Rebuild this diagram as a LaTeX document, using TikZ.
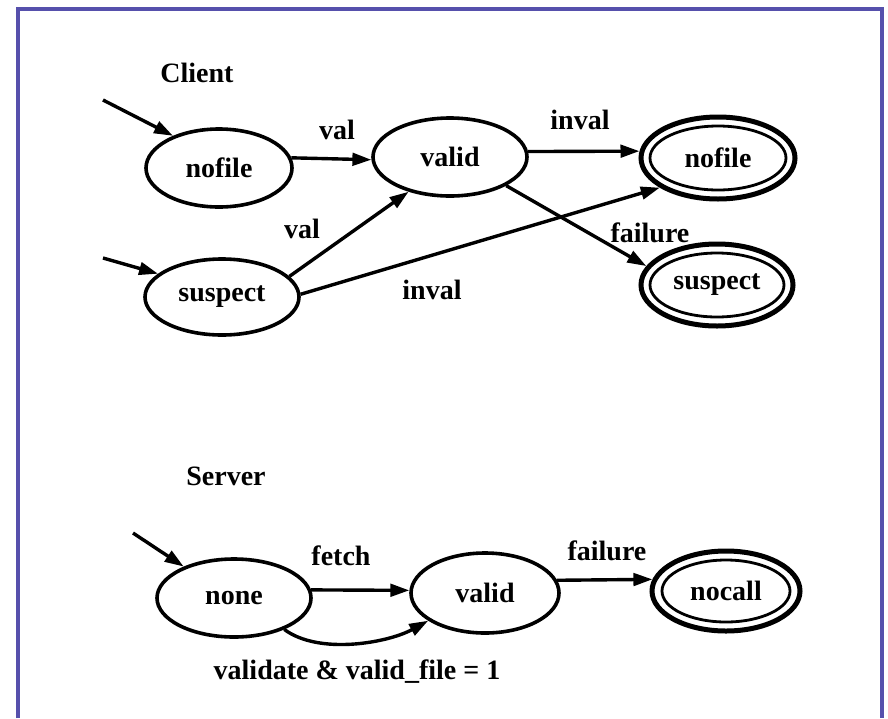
\documentclass[tikz,border=0pt]{standalone}
\usepackage{fontspec}
\setmainfont{Liberation Serif}
\usetikzlibrary{shapes.geometric,arrows.meta}
\definecolor{framecol}{RGB}{86,80,172}
\begin{document}
\begin{tikzpicture}[x=1pt,y=-1pt,
  every node/.style={font=\fontsize{28}{32}\selectfont\bfseries},
  st/.style={ellipse,draw,line width=3.6pt,inner sep=0pt},
  fin/.style={ellipse,draw,line width=5pt,inner sep=0pt},
  inner/.style={line width=2.8pt},
  edge/.style={line width=3.4pt,-{Triangle[length=19pt,width=12.5pt]}},
  lbl/.style={inner sep=0pt}]
\useasboundingbox (0,0) rectangle (888,718);
\fill[white] (0,0) rectangle (888,718);
\draw[line width=4pt,color=framecol] (17.5,718) -- (17.5,8.5) -- (882,8.5) -- (882,718);

% ---------- Client ----------
\node[lbl] (client) at (197,73) {Client};
\node[st,minimum width=146pt,minimum height=78pt] (n1) at (219,168) {nofile};
\node[st,minimum width=154pt,minimum height=78pt] (v1) at (450,157) {valid};
\node[st,minimum width=154pt,minimum height=76pt] (s1) at (222,297) {suspect};
\node[fin,minimum width=154pt,minimum height=82pt] (nf2) at (718,158) {nofile};
\draw[inner] (nf2.center) ellipse [x radius=68, y radius=32];
\node[fin,minimum width=152pt,minimum height=82pt] (sf2) at (717,285) {suspect};
\draw[inner] (sf2.center) ellipse [x radius=67, y radius=32];

\coordinate (i1) at (103,100);
\coordinate (i2) at (103,258);
\draw[edge] (i1) -- (n1.145);
\draw[edge] (i2) -- (s1.160);

\draw[edge] (n1.8) -- (v1.182);
\draw[edge] (s1.17) -- (v1.220);
\draw[edge] (v1.4) -- (nf2.175);
\draw[edge] (v1.-27) -- (sf2.165);
\draw[edge] (s1.2) -- (nf2.207);

\node[lbl] (lval1) at (337,130) {val};
\node[lbl] (lval2) at (302,229) {val};
\node[lbl] (linv1) at (580,120) {inval};
\node[lbl] (lfail1) at (650,233) {failure};
\node[lbl] (linv2) at (432,290) {inval};

% ---------- Server ----------
\node[lbl] (server) at (226,476) {Server};
\node[st,minimum width=154pt,minimum height=78pt] (none) at (234,598) {none};
\node[st,minimum width=148pt,minimum height=80pt] (v2) at (485,593) {valid};
\node[fin,minimum width=148pt,minimum height=80pt] (nc) at (726,591) {nocall};
\draw[inner] (nc.center) ellipse [x radius=64, y radius=31];

\coordinate (i3) at (133,533);
\draw[edge] (i3) -- (none.148);
\draw[edge] (none.6) -- (v2.178);
\draw[edge] (v2.10) -- (nc.171);
\draw[edge] (none.-32) .. controls +(35,26) and +(-40,22) .. (v2.206);

\node[lbl] (lfetch) at (341,556) {fetch};
\node[lbl] (lfail2) at (607,551) {failure};
\node[lbl] (lvalid) at (357,672) {validate \& valid\_file = 1};
\end{tikzpicture}
\end{document}
